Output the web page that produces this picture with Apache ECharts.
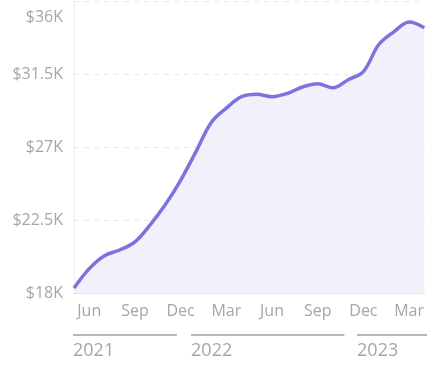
<!DOCTYPE html>
<html>
<head>
  <meta charset="utf-8">
  <title>Revenue</title>
  <script src="https://cdn.jsdelivr.net/npm/echarts@6/dist/echarts.min.js"></script>
</head>
<body style="margin:0">
  <div id="main" style="width:427px;height:365px;"></div>
  <script type="text/javascript">
    // monthly values, in $K
    var months = ['May 2021', 'Jun 2021', 'Jul 2021', 'Aug 2021', 'Sep 2021', 'Oct 2021', 'Nov 2021', 'Dec 2021',
      'Jan 2022', 'Feb 2022', 'Mar 2022', 'Apr 2022', 'May 2022', 'Jun 2022', 'Jul 2022', 'Aug 2022',
      'Sep 2022', 'Oct 2022', 'Nov 2022', 'Dec 2022', 'Jan 2023', 'Feb 2023', 'Mar 2023', 'Apr 2023'];
    var values = [18.3, 19.5, 20.3, 20.65, 21.15, 22.2, 23.45, 24.95,
      26.7, 28.5, 29.4, 30.1, 30.25, 30.1, 30.3, 30.7,
      30.9, 30.65, 31.15, 31.65, 33.3, 34.1, 34.7, 34.35];
    var yTicks = [18, 22.5, 27, 31.5, 36];
    var shownMonths = ['Jun', 'Sep', 'Dec', 'Mar'];
    var years = ['2021', '2022', '2023'];

    var myChart = echarts.init(document.getElementById('main'));
    var labelFont = '"Open Sans", sans-serif';

    myChart.setOption({
      animation: false,
      grid: { left: 74, right: 0, top: 1, bottom: 72 },
      xAxis: {
        type: 'category',
        boundaryGap: false,
        data: months,
        axisLine: { lineStyle: { color: '#e6e6e6' } },
        axisTick: { show: false },
        axisLabel: {
          color: '#a6a6a6', fontSize: 16, fontFamily: labelFont, margin: 10,
          interval: function (i, v) { return shownMonths.indexOf(v.split(' ')[0]) >= 0; },
          formatter: function (v) { return v.split(' ')[0]; }
        },
        splitLine: { show: false }
      },
      yAxis: {
        type: 'value',
        min: yTicks[0],
        max: yTicks[yTicks.length - 1],
        interval: yTicks[1] - yTicks[0],
        axisLine: { show: true, lineStyle: { color: '#ececec' } },
        axisTick: { show: false },
        axisLabel: {
          color: '#a6a6a6', fontSize: 16, fontFamily: labelFont, margin: 11,
          formatter: function (v) {
            var s = '$' + v + 'K';
            return v === yTicks[yTicks.length - 1] ? '{top|' + s + '}' : s;
          },
          rich: {
            top: { color: '#a6a6a6', fontSize: 16, fontFamily: labelFont, padding: [32, 0, 0, 0] }
          }
        },
        splitLine: { lineStyle: { color: '#e8e8e8', type: [5, 5] } }
      },
      series: [{
        type: 'line',
        data: values,
        smooth: 0.35,
        symbol: 'none',
        lineStyle: { color: '#7b74dc', width: 3.5 },
        areaStyle: { color: '#f1f0fb', opacity: 1 }
      }]
    });

    // year bands under the month labels (fractional month positions)
    var bands = [[0, 6.75], [7.75, 17.75], [18.65, 26]];
    var p0 = myChart.convertToPixel({ xAxisIndex: 0 }, 0);
    var step = myChart.convertToPixel({ xAxisIndex: 0 }, 1) - p0;
    var graphics = [];
    years.forEach(function (y, i) {
      var x1 = p0 + bands[i][0] * step - 1;
      var x2 = Math.min(p0 + bands[i][1] * step, 440);
      graphics.push({
        type: 'line',
        shape: { x1: x1, y1: 335, x2: x2, y2: 335 },
        style: { stroke: '#9e9e9e', lineWidth: 1.5 }
      });
      graphics.push({
        type: 'text',
        x: x1, y: 351,
        style: { text: y, fill: '#a6a6a6', fontSize: 18, fontFamily: labelFont, verticalAlign: 'middle', align: 'left' }
      });
    });
    myChart.setOption({ graphic: graphics });
  </script>
</body>
</html>
